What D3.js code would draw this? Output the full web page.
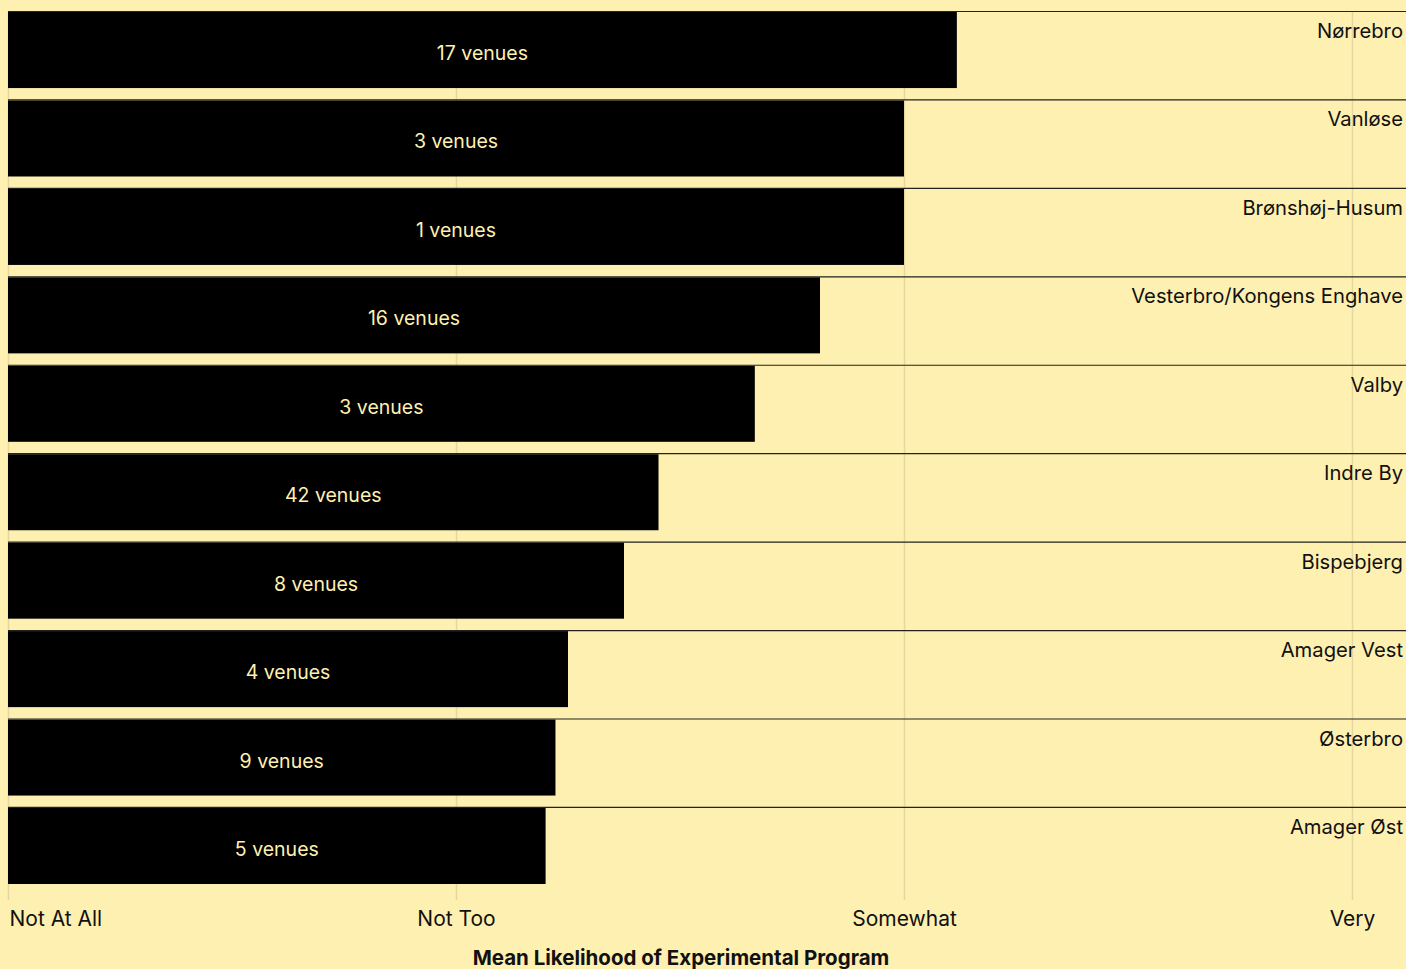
<!DOCTYPE html>
<html>
<head>
<meta charset="utf-8">
<script src="https://cdn.jsdelivr.net/npm/d3@7"></script>
<style>
  html, body { margin: 0; padding: 0; background: #fef0b0; }
  svg { display: block; font-family: Inter, "Noto Sans", sans-serif; }
</style>
</head>
<body>
<svg id="chart" width="1406" height="969"></svg>
<script>
const districts = ["Nørrebro", "Vanløse", "Brønshøj-Husum", "Vesterbro/Kongens Enghave", "Valby", "Indre By", "Bispebjerg", "Amager Vest", "Østerbro", "Amager Øst"];
const meanLikelihood = [3.118, 3.0, 3.0, 2.8125, 2.667, 2.452, 2.375, 2.25, 2.222, 2.2];
const venueCounts = [17, 3, 1, 16, 3, 42, 8, 4, 9, 5];
const tickValues = [1, 2, 3, 4];
const tickLabels = ["Not At All", "Not Too", "Somewhat", "Very"];
const axisTitle = "Mean Likelihood of Experimental Program";

const data = districts.map((d, i) => ({ name: d, value: meanLikelihood[i], venues: venueCounts[i] }));

const W = 1406, H = 969;
const svg = d3.select("#chart");
const bg = "#fef0b0";

const x = d3.scaleLinear().domain([1, 4]).range([8, 1352]);
const y = d3.scaleBand().domain(districts).range([12, 884]).paddingInner(0.14).paddingOuter(0);

svg.append("rect").attr("width", W).attr("height", H).attr("fill", bg);

// gridlines
svg.append("g").selectAll("line").data(tickValues).join("line")
  .attr("x1", d => Math.round(x(d)) + 0.5).attr("x2", d => Math.round(x(d)) + 0.5)
  .attr("y1", 12).attr("y2", 900)
  .attr("stroke", "#e6d7a0").attr("stroke-width", 1.5);

// bars
const rows = svg.append("g").selectAll("g").data(data).join("g");
rows.append("rect")
  .attr("x", x(1)).attr("y", d => y(d.name))
  .attr("width", d => x(d.value) - x(1)).attr("height", y.bandwidth())
  .attr("fill", "#000");
rows.append("line")
  .attr("x1", x(1)).attr("x2", W)
  .attr("y1", d => y(d.name) - 0.5).attr("y2", d => y(d.name) - 0.5)
  .attr("stroke", "#222").attr("stroke-width", 1.2);
rows.append("text")
  .attr("x", d => (x(1) + x(d.value)) / 2).attr("y", d => y(d.name) + 48)
  .attr("text-anchor", "middle").attr("fill", bg)
  .attr("font-size", 19.5)
  .text(d => `${d.venues} venues`);
rows.append("text")
  .attr("x", 1403).attr("y", d => y(d.name) + 26)
  .attr("text-anchor", "end").attr("fill", "#111")
  .attr("font-size", 20.2)
  .text(d => d.name);

// axis
const axis = d3.axisBottom(x).tickValues(tickValues).tickFormat((d, i) => tickLabels[i]).tickSize(0).tickPadding(0);
const gAxis = svg.append("g").attr("transform", "translate(0,900)").call(axis);
gAxis.select(".domain").remove();
gAxis.selectAll("text")
  .attr("y", 26).attr("dy", null)
  .attr("font-size", 21).attr("fill", "#111")
  .attr("font-family", "Inter, 'Noto Sans', sans-serif")
  .attr("text-anchor", (d, i) => i === 0 ? "start" : "middle")
  .attr("x", (d, i) => i === 0 ? 1 : 0);

svg.append("text")
  .attr("x", (x(1) + x(4)) / 2 + 1).attr("y", 965)
  .attr("text-anchor", "middle").attr("font-weight", "bold")
  .attr("font-size", 20.5).attr("fill", "#111")
  .text(axisTitle);
</script>
</body>
</html>
